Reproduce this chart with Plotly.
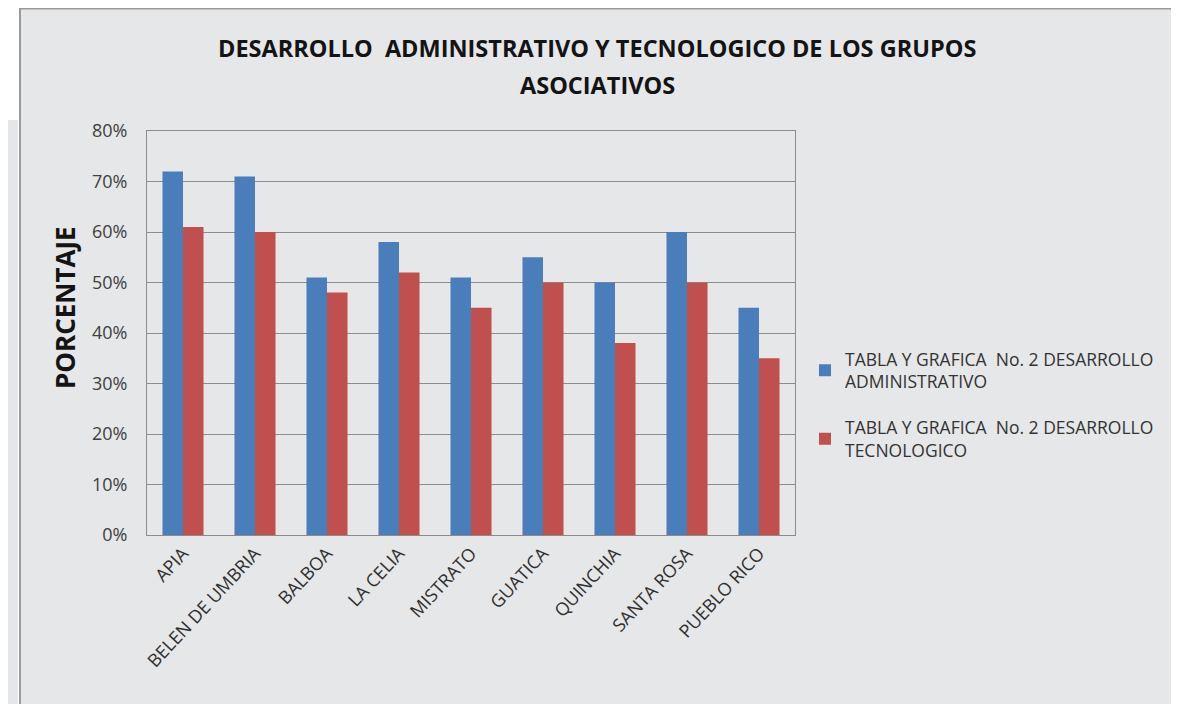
import plotly.graph_objects as go

categories = ["APIA", "BELEN DE UMBRIA", "BALBOA", "LA CELIA", "MISTRATO",
              "GUATICA", "QUINCHIA", "SANTA ROSA", "PUEBLO RICO"]
administrativo = [0.72, 0.71, 0.51, 0.58, 0.51, 0.55, 0.50, 0.60, 0.45]
tecnologico = [0.61, 0.60, 0.48, 0.52, 0.45, 0.50, 0.38, 0.50, 0.35]
series_names = ["TABLA Y GRAFICA  No. 2 DESARROLLO<br>ADMINISTRATIVO",
                "TABLA Y GRAFICA  No. 2 DESARROLLO<br>TECNOLOGICO"]
title_lines = ["DESARROLLO  ADMINISTRATIVO Y TECNOLOGICO DE LOS GRUPOS", "ASOCIATIVOS"]
y_title = "PORCENTAJE"
y_ticks = [0, 0.1, 0.2, 0.3, 0.4, 0.5, 0.6, 0.7, 0.8]

# the page body has an 8px margin: figure coords = window coords - 8
OFF = 8
W, H = 1179, 704
L, R, T, B = 147 - OFF, 795 - OFF, 131 - OFF, 535 - OFF
PW, PH = R - L, B - T

def px(x):
    return (x - OFF - L) / PW

def py(y):
    return (B - (y - OFF)) / PH

fig = go.Figure()
fig.add_trace(go.Bar(x=categories, y=administrativo, name=series_names[0],
                     legendgroup="a",
                     marker=dict(color="#4a7ebb", line=dict(width=0))))
fig.add_trace(go.Bar(x=categories, y=tecnologico, name=series_names[1],
                     legendgroup="b",
                     marker=dict(color="#c0504d", line=dict(width=0))))

marble = "#e6e7e8"
fig.update_layout(
    width=W, height=H,
    paper_bgcolor="white",
    plot_bgcolor="rgba(0,0,0,0)",
    margin=dict(l=L, r=W - R, t=T, b=H - B, autoexpand=False),
    barmode="group", bargap=0.43, bargroupgap=0,
    font=dict(family="Open Sans", color="#404040"),
    yaxis=dict(range=[0, 0.8], tickvals=y_ticks, tickformat=".0%",
               showgrid=True, gridcolor="#8c8c8c", gridwidth=1,
               zeroline=False, showline=True, linecolor="#8c8c8c", mirror=True,
               ticks="", ticklabelstandoff=15, automargin=False,
               tickfont=dict(size=18, color="#404040")),
    xaxis=dict(tickangle=-47, showline=True, linecolor="#8c8c8c", mirror=True,
               ticks="", automargin=False,
               tickfont=dict(size=18, color="#303030")),
    legend=dict(x=px(805), xanchor="left", y=py(341), yanchor="top",
                bgcolor="rgba(0,0,0,0)", font=dict(size=17.5, color="#333333"),
                tracegroupgap=20, itemwidth=30),
    annotations=[
        dict(text="<b>%s</b>" % title_lines[0], xref="paper", yref="paper",
             x=px(597), y=py(48), xanchor="center", yanchor="middle", showarrow=False,
             font=dict(family="Open Sans", size=23.5, color="#141414")),
        dict(text="<b>%s</b>" % title_lines[1], xref="paper", yref="paper",
             x=px(597), y=py(85), xanchor="center", yanchor="middle", showarrow=False,
             font=dict(family="Open Sans", size=23.5, color="#141414")),
        dict(text="<b>%s</b>" % y_title, xref="paper", yref="paper", textangle=-90,
             x=px(65), y=py(308), xanchor="center", yanchor="middle", showarrow=False,
             font=dict(family="Open Sans", size=26, color="#141414")),
    ],
    shapes=[
        dict(type="rect", xref="paper", yref="paper", layer="below",
             x0=px(20), x1=px(1172), y0=py(730), y1=py(8.5),
             fillcolor=marble, line=dict(color="#9a9a9a", width=2)),
        dict(type="rect", xref="paper", yref="paper", layer="below",
             x0=px(8), x1=px(18), y0=py(730), y1=py(120),
             fillcolor="#e4e6e9", line=dict(width=0)),
    ],
)
fig.write_html("out.html")
